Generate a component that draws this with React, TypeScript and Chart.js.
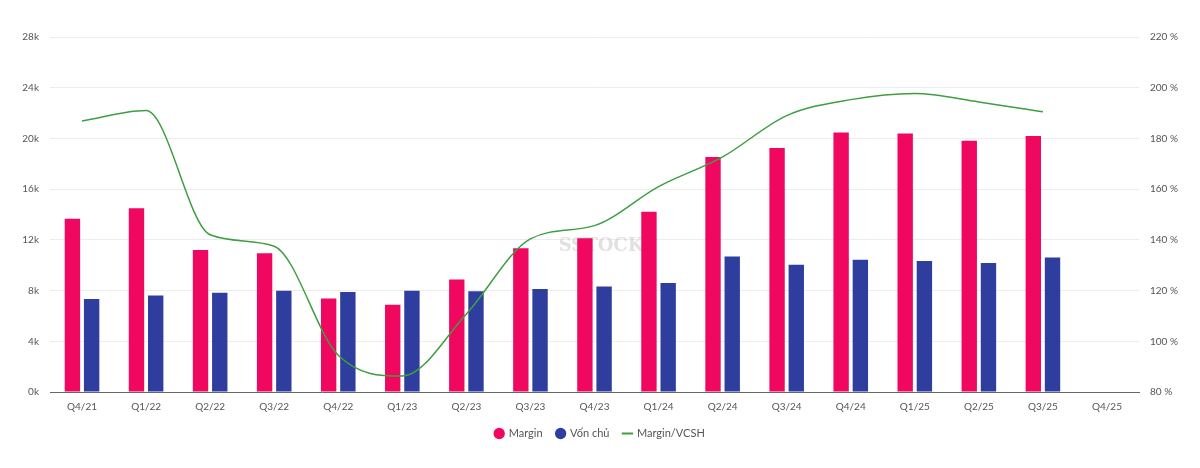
import React, { useEffect, useRef } from "react";
import { Chart, registerables } from "chart.js";

Chart.register(...registerables);

const categories = ["Q4/21", "Q1/22", "Q2/22", "Q3/22", "Q4/22", "Q1/23", "Q2/23", "Q3/23", "Q4/23", "Q1/24", "Q2/24", "Q3/24", "Q4/24", "Q1/25", "Q2/25", "Q3/25", "Q4/25"];
const margin = [13660, 14500, 11200, 10940, 7380, 6880, 8880, 11340, 12130, 14210, 18530, 19250, 20460, 20380, 19820, 20190, null];
const vonChu = [7330, 7620, 7830, 7990, 7880, 7990, 7940, 8120, 8330, 8590, 10680, 10040, 10440, 10330, 10180, 10600, null];
const marginVcsh = [186.9, 191, 142, 137.5, 94.5, 86.3, 110.8, 140.4, 145.6, 161, 172.7, 189, 195.3, 197.7, 194.4, 190.5, null];
const leftTicks = [0, 4000, 8000, 12000, 16000, 20000, 24000, 28000];
const rightTicks = [80, 100, 120, 140, 160, 180, 200, 220];

const FONT = "Lato, 'Open Sans', sans-serif";

const watermark = {
  id: "watermark",
  beforeDatasetsDraw(chart: any) {
    const ctx = chart.ctx;
    ctx.save();
    ctx.fillStyle = "rgba(200,200,200,0.55)";
    ctx.font = "bold 18px 'DejaVu Serif', serif";
    ctx.textAlign = "center";
    ctx.textBaseline = "middle";
    ctx.fillText("SSTOCK", 601, 246);
    ctx.restore();
  },
};

export default function App() {
  const ref = useRef<HTMLCanvasElement>(null);
  useEffect(() => {
    document.body.style.margin = "0";
    const chart = new Chart(ref.current!, {
      type: "bar",
      data: {
        labels: categories,
        datasets: [
          {
            type: "line",
            label: "Margin/VCSH",
            data: marginVcsh,
            yAxisID: "y1",
            borderColor: "#3d9f41",
            backgroundColor: "#3d9f41",
            borderWidth: 1.5,
            pointRadius: 0,
            cubicInterpolationMode: "monotone",
            order: 0,
          } as any,
          {
            label: "Margin",
            data: margin,
            yAxisID: "y",
            backgroundColor: "#f0075f",
            barPercentage: 0.8,
            categoryPercentage: 0.6,
            order: 1,
          },
          {
            label: "Vốn chủ",
            data: vonChu,
            yAxisID: "y",
            backgroundColor: "#2f3d9f",
            barPercentage: 0.8,
            categoryPercentage: 0.6,
            order: 1,
          },
        ],
      },
      options: {
        animation: false,
        responsive: true,
        maintainAspectRatio: false,
        layout: { padding: { top: 37, bottom: 19, left: 0, right: 0 } },
        plugins: {
          tooltip: { enabled: false },
          legend: {
            position: "bottom",
            labels: {
              usePointStyle: true,
              boxWidth: 8,
              boxHeight: 8,
              padding: 14,
              color: "#555",
              font: { family: FONT, size: 11 },
              sort: (a: any, b: any) => {
                const order = ["Margin", "Vốn chủ", "Margin/VCSH"];
                return order.indexOf(a.text) - order.indexOf(b.text);
              },
              generateLabels: (chart: any) => {
                const items = Chart.defaults.plugins.legend.labels.generateLabels(chart);
                return items.map((it: any) => {
                  if (it.text === "Margin/VCSH") {
                    return { ...it, pointStyle: "line", lineWidth: 2, strokeStyle: "#3d9f41" };
                  }
                  return { ...it, pointStyle: "circle" };
                });
              },
            },
          },
        },
        scales: {
          x: {
            grid: { display: false, drawTicks: false },
            border: { display: true, color: "#666" },
            ticks: { color: "#555", font: { family: FONT, size: 10 }, padding: 9, maxRotation: 0 },
            afterFit: (s: any) => { s.height = 22; },
          },
          y: {
            position: "left",
            min: 0,
            max: 28000,
            afterBuildTicks: (s: any) => { s.ticks = leftTicks.map((v) => ({ value: v })); },
            grid: { color: "#ececec", drawTicks: false },
            border: { display: false },
            ticks: {
              color: "#555",
              font: { family: FONT, size: 10 },
              padding: 11,
              callback: (v: any) => `${Number(v) / 1000}k`,
            },
            afterFit: (s: any) => { s.width = 50; },
          },
          y1: {
            position: "right",
            min: 80,
            max: 220,
            afterBuildTicks: (s: any) => { s.ticks = rightTicks.map((v) => ({ value: v })); },
            grid: { display: false, drawTicks: false },
            border: { display: false },
            ticks: {
              color: "#555",
              font: { family: FONT, size: 10 },
              padding: 11,
              callback: (v: any) => `${v} %`,
            },
            afterFit: (s: any) => { s.width = 61; },
          },
        },
      },
      plugins: [watermark],
    });
    return () => chart.destroy();
  }, []);
  return (
    <div style={{ position: "absolute", left: 0, top: 0, width: 1200, height: 468 }}>
      <canvas ref={ref} />
    </div>
  );
}
